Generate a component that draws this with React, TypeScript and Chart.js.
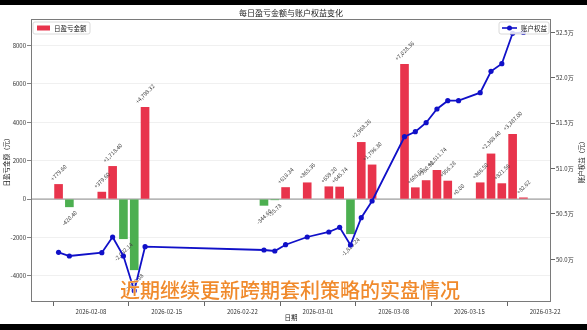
import React, { useEffect, useRef } from "react";
import { Chart, registerables } from "chart.js";

Chart.register(...registerables);

const dates = [
  "2026-02-05", "2026-02-06", "2026-02-09", "2026-02-10", "2026-02-11", "2026-02-12", "2026-02-13",
  "2026-02-24", "2026-02-25", "2026-02-26", "2026-02-28",
  "2026-03-02", "2026-03-03", "2026-03-04", "2026-03-05", "2026-03-06",
  "2026-03-09", "2026-03-10", "2026-03-11", "2026-03-12", "2026-03-13", "2026-03-14",
  "2026-03-16", "2026-03-17", "2026-03-18", "2026-03-19", "2026-03-20",
];

const dailyPnl = [
  779.6, -420.4, 379.6, 1718.4, -2082.14, -3698.08, 4798.32,
  -344.6, -55.78, 618.34, 865.36,
  659.2, 645.74, -1823.24, 2968.26, 1796.3,
  7028.36, 608.6, 980.9, 1511.74, 956.28, 0.0,
  866.5, 2368.4, 821.56, 3387.0, 82.62,
];

const equity = [
  500771, 500363, 500727, 502456, 500363, 496542, 501388,
  501024, 500914, 501608, 502456,
  503007, 503524, 501575, 504582, 506420,
  513500, 514053, 515044, 516553, 517467, 517467,
  518348, 520705, 521543, 524890, 524980,
];

const xTickDates = ["2026-02-08", "2026-02-15", "2026-02-22", "2026-03-01", "2026-03-08", "2026-03-15", "2026-03-22"];
const leftTicks = [-4000, -2000, 0, 2000, 4000, 6000, 8000];
const rightTicks = [500000, 505000, 510000, 515000, 520000, 525000];

const FONT = "'Noto Sans CJK SC', 'DejaVu Sans', sans-serif";
const RED = "#E8344C";
const GREEN = "#4CAF50";
const BLUE = "#1010C8";

const dayNum = (s: string) =>
  Date.UTC(+s.slice(0, 4), +s.slice(5, 7) - 1, +s.slice(8, 10)) / 86400000;

const fmt = (v: number) =>
  (v >= 0 ? "+" : "-") +
  Math.abs(v).toLocaleString("en-US", { minimumFractionDigits: 2, maximumFractionDigits: 2 });

export default function App() {
  const ref = useRef<HTMLCanvasElement | null>(null);

  useEffect(() => {
    document.body.style.margin = "0";
    const xs = dates.map(dayNum);
    const xTickNums = xTickDates.map(dayNum);

    const decor = {
      id: "decor",
      beforeDatasetsDraw(chart: any) {
        const { ctx, chartArea: a, scales } = chart;
        const y0 = scales.y.getPixelForValue(0);
        ctx.save();
        ctx.strokeStyle = "#8a8a8a";
        ctx.lineWidth = 1;
        ctx.beginPath();
        ctx.moveTo(a.left, y0);
        ctx.lineTo(a.right, y0);
        ctx.stroke();
        ctx.restore();
      },
      afterDatasetDraw(chart: any, args: any) {
        if (args.index !== 0) return;
        const { ctx, scales } = chart;
        ctx.save();
        ctx.font = `5.5px ${FONT}`;
        ctx.fillStyle = "#444";
        ctx.textAlign = "center";
        ctx.textBaseline = "middle";
        dailyPnl.forEach((v, i) => {
          const t = fmt(v);
          const w = ctx.measureText(t).width;
          const half = (w + 5.5) / (2 * Math.SQRT2);
          const px = scales.x.getPixelForValue(xs[i]);
          const py = scales.y.getPixelForValue(v);
          const cy = v >= 0 ? py - 2.5 - half : py + 2.5 + half;
          ctx.save();
          ctx.translate(px, cy);
          ctx.rotate(-Math.PI / 4);
          ctx.fillText(t, 0, 0);
          ctx.restore();
        });
        ctx.restore();
      },
      afterDraw(chart: any) {
        const { ctx, chartArea: a } = chart;
        ctx.save();
        ctx.strokeStyle = "#7a7a7a";
        ctx.lineWidth = 1;
        ctx.strokeRect(a.left + 0.5, a.top + 0.5, a.right - a.left - 1, a.bottom - a.top - 1);
        ctx.fillStyle = "#222";
        ctx.textAlign = "center";
        ctx.textBaseline = "middle";
        ctx.font = `8px ${FONT}`;
        ctx.fillText("每日盈亏金额与账户权益变化", (a.left + a.right) / 2, 13);
        ctx.font = `6.5px ${FONT}`;
        ctx.fillText("日期", (a.left + a.right) / 2, 318);
        const cy = (a.top + a.bottom) / 2;
        ctx.save();
        ctx.translate(7, cy);
        ctx.rotate(-Math.PI / 2);
        ctx.fillText("日盈亏金额（元）", 0, 0);
        ctx.restore();
        ctx.save();
        ctx.translate(582, cy);
        ctx.rotate(-Math.PI / 2);
        ctx.fillText("账户权益（元）", 0, 0);
        ctx.restore();
        const box = (x: number, y: number, w: number, h: number) => {
          ctx.fillStyle = "rgba(255,255,255,0.85)";
          ctx.strokeStyle = "#d0d0d0";
          ctx.lineWidth = 0.8;
          ctx.beginPath();
          ctx.roundRect(x, y, w, h, 2);
          ctx.fill();
          ctx.stroke();
        };
        box(33, 22, 57, 12);
        ctx.fillStyle = RED;
        ctx.fillRect(37, 25.5, 13, 5);
        ctx.fillStyle = "#222";
        ctx.textAlign = "left";
        ctx.font = `6.5px ${FONT}`;
        ctx.fillText("日盈亏金额", 54, 28.5);
        box(499, 22, 50, 12);
        ctx.strokeStyle = BLUE;
        ctx.lineWidth = 1.6;
        ctx.beginPath();
        ctx.moveTo(502, 28);
        ctx.lineTo(517, 28);
        ctx.stroke();
        ctx.fillStyle = BLUE;
        ctx.beginPath();
        ctx.arc(509.5, 28, 2.5, 0, Math.PI * 2);
        ctx.fill();
        ctx.fillStyle = "#222";
        ctx.fillText("账户权益", 521, 28.5);
        ctx.restore();
      },
    };

    const chart = new Chart(ref.current as HTMLCanvasElement, {
      type: "bar",
      data: {
        datasets: [
          {
            type: "bar",
            label: "日盈亏金额",
            data: xs.map((x, i) => ({ x, y: dailyPnl[i] })),
            backgroundColor: dailyPnl.map((v) => (v >= 0 ? RED : GREEN)),
            yAxisID: "y",
            barPercentage: 0.8,
            categoryPercentage: 1.0,
            order: 2,
          } as any,
          {
            type: "line",
            label: "账户权益",
            data: xs.map((x, i) => ({ x, y: equity[i] })),
            borderColor: BLUE,
            backgroundColor: BLUE,
            borderWidth: 1.8,
            pointRadius: 2.6,
            pointBorderWidth: 0,
            pointBackgroundColor: BLUE,
            yAxisID: "y1",
            order: 1,
          } as any,
        ],
      },
      options: {
        animation: false,
        responsive: true,
        maintainAspectRatio: false,
        events: [],
        layout: { padding: { top: 19, left: 0, right: 0, bottom: 0 } },
        plugins: { legend: { display: false }, title: { display: false }, tooltip: { enabled: false } },
        scales: {
          x: {
            type: "linear",
            min: dayNum("2026-02-08") - 5.55,
            max: dayNum("2026-03-22") + 0.55,
            offset: false,
            afterBuildTicks: (s: any) => {
              s.ticks = xTickNums.map((value) => ({ value }));
            },
            afterFit: (s: any) => {
              s.height = 28;
            },
            ticks: {
              autoSkip: false,
              maxRotation: 0,
              padding: 2,
              color: "#333",
              font: { family: FONT, size: 6 },
              callback: (v: any) => {
                const i = xTickNums.indexOf(v);
                return i >= 0 ? xTickDates[i] : "";
              },
            },
            grid: { drawOnChartArea: false, drawTicks: true, tickLength: 4, color: "#666" },
            border: { display: false },
          },
          y: {
            type: "linear",
            position: "left",
            min: -5358,
            max: 9373,
            afterBuildTicks: (s: any) => {
              s.ticks = leftTicks.map((value) => ({ value }));
            },
            afterFit: (s: any) => {
              s.width = 31;
            },
            ticks: {
              padding: 1,
              color: "#333",
              font: { family: FONT, size: 6 },
              callback: (v: any) => String(Math.round(Number(v))),
            },
            grid: { color: "#ececec", lineWidth: 0.8, tickLength: 4, tickColor: "#666" },
            border: { display: false },
          },
          y1: {
            type: "linear",
            position: "right",
            min: 495297,
            max: 526465,
            afterBuildTicks: (s: any) => {
              s.ticks = rightTicks.map((value) => ({ value }));
            },
            afterFit: (s: any) => {
              s.width = 36;
            },
            ticks: {
              padding: 1,
              color: "#333",
              font: { family: FONT, size: 6 },
              callback: (v: any) => (Number(v) / 10000).toFixed(1) + "万",
            },
            grid: { drawOnChartArea: false, tickLength: 4, color: "#666" },
            border: { display: false },
          },
        },
      } as any,
      plugins: [decor],
    });
    return () => chart.destroy();
  }, []);

  return (
    <div style={{ position: "fixed", left: 0, top: 0, width: 587, height: 330, background: "#fff", overflow: "hidden" }}>
      <canvas ref={ref} />
      <div style={{ position: "absolute", left: 0, top: 0, width: 587, height: 5, background: "#000" }} />
      <div style={{ position: "absolute", left: 0, top: 324, width: 587, height: 6, background: "#000" }} />
      <div
        style={{
          position: "absolute",
          left: 120,
          top: 277,
          fontFamily: FONT,
          fontSize: 20,
          fontWeight: 500,
          lineHeight: "26px",
          color: "#F08A2C",
          whiteSpace: "nowrap",
          textShadow: "0 0 1px #fff, 0 0 1px #fff",
        }}
      >
        近期继续更新跨期套利策略的实盘情况
      </div>
    </div>
  );
}
